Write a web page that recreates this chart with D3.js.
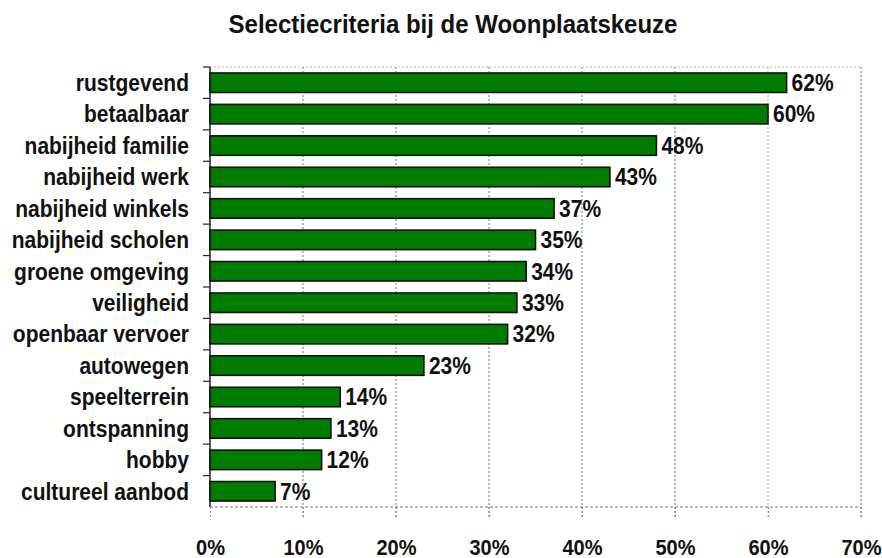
<!DOCTYPE html>
<html>
<head>
<meta charset="utf-8">
<script src="https://cdn.jsdelivr.net/npm/d3@7"></script>
<style>
  body { margin: 0; background: #fff; }
  text { font-family: "Liberation Sans", Arial, sans-serif; font-weight: bold; fill: #111; }
</style>
</head>
<body>
<div id="chart"></div>
<script>
// data
const categories = ["rustgevend", "betaalbaar", "nabijheid familie", "nabijheid werk",
  "nabijheid winkels", "nabijheid scholen", "groene omgeving", "veiligheid",
  "openbaar vervoer", "autowegen", "speelterrein", "ontspanning", "hobby", "cultureel aanbod"];
const values = [62, 60, 48, 43, 37, 35, 34, 33, 32, 23, 14, 13, 12, 7];
const xTicks = [0, 10, 20, 30, 40, 50, 60, 70];

const w = 882, h = 558;
const plotLeft = 210, plotRight = 861, plotTop = 67, plotBottom = 507;
const stretch = 1.1;   // text in the original looks a bit taller than it is wide

let svg = d3.select("#chart").append("svg")
  .attr("width", w)
  .attr("height", h);

// scales
var xScale = d3.scaleLinear().domain([0, 70]).range([plotLeft, plotRight]);
var yScale = d3.scaleBand().domain(categories).range([plotTop, plotBottom]).paddingInner(0.38).paddingOuter(0.19);
var bandY = d3.scaleBand().domain(categories).range([plotTop, plotBottom]);

// title
svg.append("text")
  .attr("transform", `translate(453,33) scale(1,${stretch})`)
  .attr("text-anchor", "middle")
  .style("font-size", "24px")
  .text("Selectiecriteria bij de Woonplaatskeuze");

// vertical gridlines
svg.append("g").selectAll("line")
  .data(xTicks.slice(1))
  .join("line")
  .attr("x1", d => xScale(d))
  .attr("x2", d => xScale(d))
  .attr("y1", plotTop)
  .attr("y2", plotBottom + 10)
  .attr("stroke", d => d === 60 ? "#9fcf8f" : "#8a8a9a")
  .attr("stroke-width", 1.2)
  .attr("stroke-dasharray", "2,2");

// top border
svg.append("line")
  .attr("x1", plotLeft).attr("x2", plotRight)
  .attr("y1", plotTop).attr("y2", plotTop)
  .attr("stroke", "#a8d08d")
  .attr("stroke-width", 1.2)
  .attr("stroke-dasharray", "2,2");

// bottom axis (dotted) with tick labels
let xAxis = d3.axisBottom(xScale)
  .tickValues(xTicks)
  .tickSize(10)
  .tickPadding(0)
  .tickFormat(d => d + "%");
let gx = svg.append("g")
  .attr("transform", `translate(0,${plotBottom})`)
  .call(xAxis);
gx.select(".domain")
  .attr("stroke", "#777")
  .attr("stroke-dasharray", "3,2")
  .attr("d", `M${plotLeft},0H${plotRight}`);
gx.selectAll(".tick line")
  .attr("stroke", "#8a8a8a")
  .attr("stroke-dasharray", "2,2");
gx.selectAll(".tick text")
  .attr("y", null)
  .attr("dy", null)
  .attr("transform", `translate(0,48) scale(1,${stretch})`)
  .style("font-size", "20px")
  .style("font-family", "'Liberation Sans', Arial, sans-serif")
  .style("font-weight", "bold")
  .attr("fill", "#111");

// y axis: solid line with band boundary ticks
svg.append("line")
  .attr("x1", plotLeft).attr("x2", plotLeft)
  .attr("y1", plotTop).attr("y2", plotBottom)
  .attr("stroke", "#222")
  .attr("stroke-width", 1.5);
svg.append("g").selectAll("line")
  .data(categories)
  .join("line")
  .attr("x1", plotLeft - 7)
  .attr("x2", plotLeft)
  .attr("y1", d => bandY(d))
  .attr("y2", d => bandY(d))
  .attr("stroke", "#222")
  .attr("stroke-width", 1.2);

// category labels
svg.append("g").selectAll("text")
  .data(categories)
  .join("text")
  .attr("transform", d => `translate(189,${bandY(d) + bandY.bandwidth() / 2}) scale(1,${stretch})`)
  .attr("dy", "0.36em")
  .attr("text-anchor", "end")
  .style("font-size", "21px")
  .text(d => d);

// bars
svg.append("g").selectAll("rect")
  .data(values)
  .join("rect")
  .attr("x", xScale(0))
  .attr("y", (d, i) => yScale(categories[i]))
  .attr("width", d => xScale(d) - xScale(0))
  .attr("height", yScale.bandwidth())
  .attr("fill", "#007d00")
  .attr("stroke", "#111")
  .attr("stroke-width", 1.6);

// value labels
svg.append("g").selectAll("text")
  .data(values)
  .join("text")
  .attr("transform", (d, i) => `translate(${xScale(d) + 5},${bandY(categories[i]) + bandY.bandwidth() / 2}) scale(1,${stretch})`)
  .attr("dy", "0.36em")
  .style("font-size", "21px")
  .text(d => d + "%");
</script>
</body>
</html>
